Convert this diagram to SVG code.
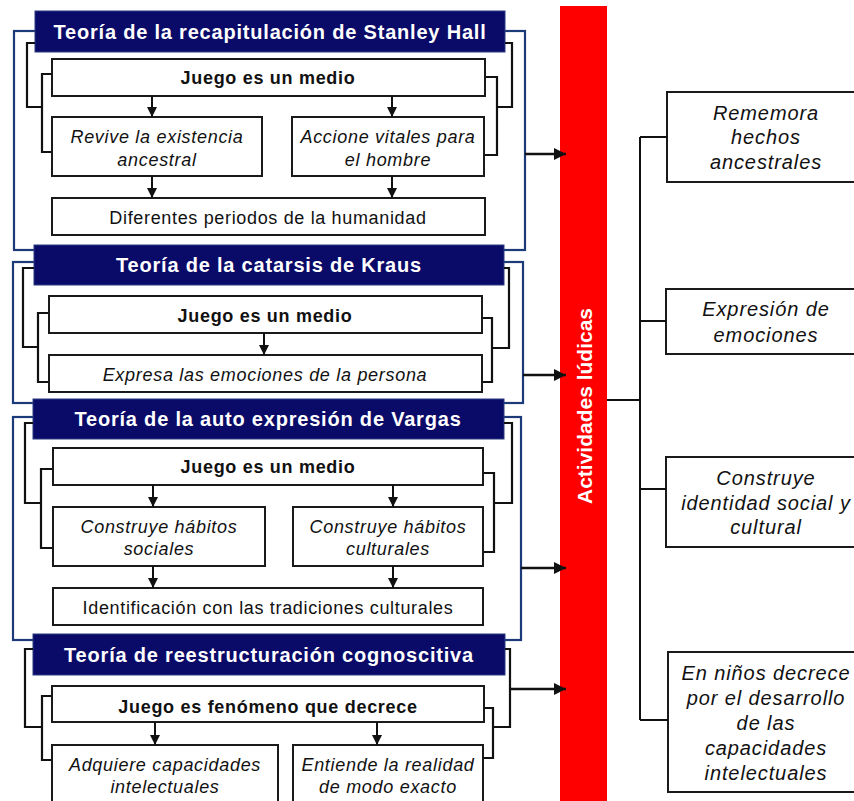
<svg xmlns="http://www.w3.org/2000/svg" width="854" height="801" viewBox="0 0 854 801">
<defs>
<marker id="ah" markerUnits="userSpaceOnUse" markerWidth="11" markerHeight="11" refX="10" refY="5" orient="auto"><path d="M0,0 L10,5 L0,10 z" fill="#111"/></marker>
<marker id="ahb" markerUnits="userSpaceOnUse" markerWidth="13" markerHeight="13" refX="12" refY="6" orient="auto"><path d="M0,0 L12,6 L0,12 z" fill="#111"/></marker>
<style>
.frame{fill:none;stroke:#1d3a78;stroke-width:2.2}
.hbox{fill:#0a0a68;stroke:#2a3a80;stroke-width:1}
.box{fill:#fff;stroke:#1a1a1a;stroke-width:2}
.br{fill:none;stroke:#111;stroke-width:2.2}
.ar{fill:none;stroke:#111;stroke-width:2;marker-end:url(#ah)}
.arb{fill:none;stroke:#111;stroke-width:2.6;marker-end:url(#ahb)}
.ln{fill:none;stroke:#111;stroke-width:2}
text{font-family:"Liberation Sans",Arial,sans-serif;text-anchor:middle}
.hdr{font-weight:bold;font-size:20px;fill:#fff;letter-spacing:0.8px}
.bd{font-weight:bold;font-size:18px;fill:#111;letter-spacing:0.7px}
.it{font-style:italic;font-size:18px;fill:#111;letter-spacing:0.7px}
.rg{font-size:18px;fill:#111;letter-spacing:0.66px}
.rt{font-style:italic;font-size:20px;fill:#111;letter-spacing:0.9px}
.bar{font-weight:bold;font-size:21px;fill:#fff}
</style>
</defs>
<rect width="854" height="801" fill="#fff"/>

<!-- Section 1 -->
<g id="sec1">
<rect class="frame" x="14" y="31" width="511" height="219"/>
<rect class="hbox" x="35" y="11" width="470" height="41"/>
<text class="hdr" x="270" y="39">Teoría de la recapitulación de Stanley Hall</text>
<path class="br" d="M35,43 H27 V107 H42"/>
<path class="br" d="M52,74 H42 V152 H52"/>
<path class="br" d="M505,43 H512 V107 H498"/>
<path class="br" d="M485,77 H497 V155 H484"/>
</g>
<g id="s1-juego"><rect class="box" x="52" y="59" width="433" height="37"/><text class="bd" x="268" y="84">Juego es un medio</text></g>
<g id="s1-revive"><rect class="box" x="52" y="117" width="210" height="59"/><text class="it" x="157" y="143">Revive la existencia</text><text class="it" x="157" y="166">ancestral</text></g>
<g id="s1-accione"><rect class="box" x="292" y="117" width="192" height="59"/><text class="it" x="388" y="143">Accione vitales para</text><text class="it" x="388" y="166">el hombre</text></g>
<g id="s1-diferentes"><rect class="box" x="52" y="198" width="433" height="37"/><text class="rg" x="268" y="224">Diferentes periodos de la humanidad</text></g>

<!-- Section 2 -->
<g id="sec2">
<rect class="frame" x="13" y="262" width="510" height="141"/>
<rect class="hbox" x="34" y="245" width="470" height="40"/>
<text class="hdr" x="269" y="272">Teoría de la catarsis de Kraus</text>
<path class="br" d="M34,268 H23 V347 H38"/>
<path class="br" d="M49,313 H38 V382 H49"/>
<path class="br" d="M504,268 H509 V348 H493"/>
<path class="br" d="M482,318 H492 V382 H482"/>
</g>
<g id="s2-juego"><rect class="box" x="49" y="296" width="433" height="37"/><text class="bd" x="265" y="322">Juego es un medio</text></g>
<g id="s2-expresa"><rect class="box" x="49" y="355" width="433" height="37"/><text class="it" x="265" y="381">Expresa las emociones de la persona</text></g>

<!-- Section 3 -->
<g id="sec3">
<rect class="frame" x="13" y="417" width="508" height="223"/>
<rect class="hbox" x="33" y="399" width="471" height="40"/>
<text class="hdr" x="268" y="426">Teoría de la auto expresión de Vargas</text>
<path class="br" d="M33,423 H25 V503 H41"/>
<path class="br" d="M53,469 H41 V548 H53"/>
<path class="br" d="M504,423 H512 V503 H495"/>
<path class="br" d="M483,473 H494 V552 H483"/>
</g>
<g id="s3-juego"><rect class="box" x="53" y="448" width="430" height="37"/><text class="bd" x="268" y="473">Juego es un medio</text></g>
<g id="s3-sociales"><rect class="box" x="53" y="507" width="212" height="59"/><text class="it" x="159" y="533">Construye hábitos</text><text class="it" x="159" y="555">sociales</text></g>
<g id="s3-culturales"><rect class="box" x="293" y="507" width="190" height="59"/><text class="it" x="388" y="533">Construye hábitos</text><text class="it" x="388" y="555">culturales</text></g>
<g id="s3-ident"><rect class="box" x="53" y="588" width="430" height="37"/><text class="rg" x="268" y="614">Identificación con las tradiciones culturales</text></g>

<!-- Section 4 -->
<g id="sec4">
<rect class="hbox" x="33" y="634" width="472" height="41"/>
<text class="hdr" x="269" y="662">Teoría de reestructuración cognoscitiva</text>
<path class="br" d="M33,649 H25 V727 H42"/>
<path class="br" d="M52,696 H42 V760 H52"/>
<path class="br" d="M505,649 H510 V727 H493"/>
<path class="br" d="M484,708 H493 V758 H484"/>
</g>
<g id="s4-juego"><rect class="box" x="52" y="686" width="432" height="36"/><text class="bd" x="268" y="713">Juego es fenómeno que decrece</text></g>
<g id="s4-adquiere"><rect class="box" x="52" y="745" width="226" height="70"/><text class="it" x="165" y="771">Adquiere capacidades</text><text class="it" x="165" y="793">intelectuales</text></g>
<g id="s4-entiende"><rect class="box" x="293" y="745" width="190" height="70"/><text class="it" x="388" y="771">Entiende la realidad</text><text class="it" x="388" y="793">de modo exacto</text></g>

<!-- Central bar -->
<g id="actividades">
<rect x="560" y="6" width="47" height="800" fill="#ff0000"/>
<text class="bar" transform="translate(584,406) rotate(-90)" x="0" y="8">Actividades lúdicas</text>
</g>

<!-- Right boxes -->
<g id="r-rememora"><rect class="box" x="667" y="92" width="200" height="90"/><text class="rt" x="766" y="120">Rememora</text><text class="rt" x="766" y="144">hechos</text><text class="rt" x="766" y="169">ancestrales</text></g>
<g id="r-expresion"><rect class="box" x="666" y="289" width="200" height="65"/><text class="rt" x="766" y="316">Expresión de</text><text class="rt" x="766" y="342">emociones</text></g>
<g id="r-construye"><rect class="box" x="666" y="457" width="200" height="90"/><text class="rt" x="766" y="485">Construye</text><text class="rt" x="766" y="510">identidad social y</text><text class="rt" x="766" y="534">cultural</text></g>
<g id="r-ninos"><rect class="box" x="668" y="652" width="200" height="140"/><text class="rt" x="766" y="680">En niños decrece</text><text class="rt" x="766" y="705">por el desarrollo</text><text class="rt" x="766" y="730">de las</text><text class="rt" x="766" y="755">capacidades</text><text class="rt" x="766" y="780">intelectuales</text></g>

<!-- Connectors -->
<g id="connectors">
<path class="ar" d="M152,96 V117"/>
<path class="ar" d="M392,96 V117"/>
<path class="ar" d="M152,176 V198"/>
<path class="ar" d="M392,176 V198"/>
<path class="ar" d="M264,333 V355"/>
<path class="ar" d="M153,485 V507"/>
<path class="ar" d="M393,485 V507"/>
<path class="ar" d="M153,566 V588"/>
<path class="ar" d="M393,566 V588"/>
<path class="ar" d="M155,722 V745"/>
<path class="ar" d="M377,722 V745"/>
<path class="arb" d="M525,154 H566"/>
<path class="arb" d="M523,375 H566"/>
<path class="arb" d="M521,568 H566"/>
<path class="arb" d="M510,689 H566"/>
<path class="ln" d="M607,400 H640"/>
<path class="ln" d="M640,137 V720"/>
<path class="ln" d="M640,137 H667"/>
<path class="ln" d="M640,321 H666"/>
<path class="ln" d="M640,489 H666"/>
<path class="ln" d="M640,720 H668"/>
</g>
</svg>
